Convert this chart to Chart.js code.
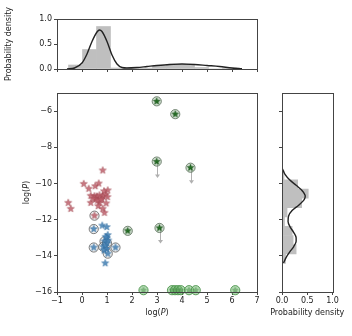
<!DOCTYPE html>
<html><head><meta charset="utf-8">
<script src="https://cdn.jsdelivr.net/npm/chart.js@4.4.1/dist/chart.umd.min.js"></script>
<style>
html,body{margin:0;padding:0;background:#fff;}
#wrap{position:relative;width:352px;height:336px;}
canvas{position:absolute;left:0;top:0;}
</style></head><body>
<div id="wrap">
<canvas id="top" width="352" height="336"></canvas>
<canvas id="main" width="352" height="336"></canvas>
<canvas id="right" width="352" height="336"></canvas>
</div>
<script>
// ---- tick labels ----
const xTicks = [-1, 0, 1, 2, 3, 4, 5, 6, 7];
const yTicks = [-16, -14, -12, -10, -8, -6];
const densTicks = [0, 0.5, 1];

// ---- scatter: red stars ----
const redX = [0.83, 0.07, 0.27, 0.53, 0.67, 0.88, 1.03, 0.35, 0.50, 0.60, 0.70, 0.83, 0.95, 1.02, 0.55, 0.80, 0.35, 0.70, 0.97, -0.55, -0.45, 0.65, 0.83, 0.90, 0.50, 0.45, 0.62, 0.75];
const redY = [-9.28, -10.02, -10.29, -10.15, -10.0, -10.43, -10.38, -10.68, -10.70, -10.72, -10.65, -10.70, -10.62, -10.75, -10.85, -10.85, -11.07, -11.07, -11.10, -11.07, -11.40, -11.25, -11.40, -11.62, -11.78, -10.85, -10.95, -10.90];
// ---- scatter: blue stars ----
const blueX = [0.81, 0.99, 0.47, 1.03, 0.99, 0.90, 1.00, 1.05, 0.85, 0.93, 1.00, 0.88, 0.47, 1.34, 1.03, 0.93, 0.95];
const blueY = [-12.33, -12.41, -12.52, -12.85, -13.0, -13.2, -13.3, -13.15, -13.5, -13.45, -13.62, -13.7, -13.54, -13.54, -13.88, -14.41, -12.95];
// ---- circled red/blue stars ----
const ringX = [0.50, 0.47, 0.90, 0.85, 1.00, 0.47, 1.34, 1.03];
const ringY = [-11.78, -12.52, -13.2, -13.5, -13.3, -13.54, -13.54, -13.88];
// ---- dark green stars (circled) ----
const greenX = [1.83, 2.99, 3.73, 2.99, 4.34, 3.10];
const greenY = [-12.62, -5.46, -6.17, -8.79, -9.13, -12.46];
// ---- light green circles at the bottom ----
const limX = [2.46, 3.60, 3.72, 3.84, 3.95, 4.28, 4.55, 6.13];
const limY = [-15.9, -15.9, -15.9, -15.9, -15.9, -15.9, -15.9, -15.9];
// ---- downward arrows ----
const arrowX = [2.99, 4.34, 3.10];
const arrowFrom = [-8.79, -9.13, -12.46];
const arrowTo = [-9.70, -10.02, -13.32];

// ---- top marginal ----
const topBinCenters = [-0.26, 0.30, 0.86, 1.42, 1.98, 2.54, 3.10, 3.66, 4.22, 4.78, 5.34, 5.90];
const topDensity = [0.08, 0.39, 0.85, 0.02, 0.02, 0.02, 0.06, 0.09, 0.09, 0.03, 0.0, 0.02];
const topKdeX = [-0.6, -0.3, 0.0, 0.2, 0.4, 0.6, 0.7, 0.8, 1.0, 1.2, 1.4, 1.6, 1.8, 2.2, 2.6, 3.0, 3.5, 4.0, 4.5, 5.0, 5.5, 6.0, 6.4];
const topKdeY = [0.0, 0.02, 0.12, 0.30, 0.55, 0.74, 0.78, 0.75, 0.55, 0.28, 0.10, 0.03, 0.02, 0.03, 0.05, 0.07, 0.09, 0.10, 0.09, 0.07, 0.05, 0.02, 0.005];

// ---- right marginal ----
const rightBinCenters = [-9.54, -10.05, -10.56, -11.08, -11.59, -12.10, -12.62, -13.13, -13.64, -14.16];
const rightDensity = [0.04, 0.31, 0.52, 0.39, 0.10, 0.05, 0.20, 0.22, 0.28, 0.07];
const rightKdeY = [-9.2, -9.5, -9.8, -10.1, -10.4, -10.7, -10.9, -11.2, -11.5, -11.8, -12.1, -12.4, -12.7, -13.0, -13.2, -13.5, -13.8, -14.1, -14.4];
const rightKdeD = [0.01, 0.06, 0.15, 0.28, 0.40, 0.46, 0.44, 0.33, 0.20, 0.13, 0.12, 0.16, 0.23, 0.28, 0.28, 0.23, 0.15, 0.08, 0.03];

// ---- axis titles ----
const logPTitle = [['log(', false], ['P', true], [')', false]];
const densityTitle = [['Probability density', false]];

// ---------------------------------------------------------------
const zip = (xs, ys) => xs.map((x, i) => ({x: x, y: ys[i]}));
const minus = v => (v < 0 ? '\u2212' : '') + Math.abs(v);
const fix1 = v => Number(v).toFixed(1);
const FAMILY = 'DejaVu Sans';

Chart.defaults.font.family = FAMILY;
Chart.defaults.font.size = 8;
Chart.defaults.color = '#222';

function drawRich(ctx, parts, cx, cy, rotate) {
  ctx.save();
  ctx.translate(cx, cy);
  if (rotate) ctx.rotate(-Math.PI / 2);
  ctx.fillStyle = '#222';
  ctx.textBaseline = 'middle';
  ctx.textAlign = 'left';
  const fonts = parts.map(p => (p[1] ? 'italic ' : '') + '8px "' + FAMILY + '"');
  let total = 0;
  parts.forEach((p, i) => { ctx.font = fonts[i]; total += ctx.measureText(p[0]).width; });
  let x = -total / 2;
  parts.forEach((p, i) => { ctx.font = fonts[i]; ctx.fillText(p[0], x, 0); x += ctx.measureText(p[0]).width; });
  ctx.restore();
}

// titles drawn relative to each chart's own scales
function titlePlugin(xParts, xOffset, yParts, yCenterX) {
  return {
    id: 'titles',
    afterDraw(chart) {
      const a = chart.chartArea, c = chart.ctx;
      if (xParts) drawRich(c, xParts, (a.left + a.right) / 2, a.bottom + xOffset, false);
      if (yParts) drawRich(c, yParts, yCenterX, (a.top + a.bottom) / 2, true);
    }
  };
}

const AX = '#444';
const framePlugin = {
  id: 'frame',
  afterDraw(chart) {
    const a = chart.chartArea, c = chart.ctx;
    c.save();
    c.strokeStyle = AX; c.lineWidth = 1;
    c.strokeRect(Math.round(a.left) + 0.5, Math.round(a.top) + 0.5, Math.round(a.right - a.left), Math.round(a.bottom - a.top));
    c.restore();
  }
};
const arrowPlugin = {
  id: 'arrows',
  beforeDatasetsDraw(chart) {
    const xs = chart.scales.x, ys = chart.scales.y, c = chart.ctx;
    c.save();
    c.strokeStyle = '#b0b0b0'; c.fillStyle = '#b0b0b0'; c.lineWidth = 1;
    arrowX.forEach((v, i) => {
      const px = Math.round(xs.getPixelForValue(v)) + 0.5;
      const p0 = ys.getPixelForValue(arrowFrom[i]);
      const p1 = ys.getPixelForValue(arrowTo[i]);
      c.beginPath(); c.moveTo(px, p0); c.lineTo(px, p1 - 2); c.stroke();
      c.beginPath(); c.moveTo(px - 2.5, p1 - 3.5); c.lineTo(px + 2.5, p1 - 3.5); c.lineTo(px, p1); c.closePath(); c.fill();
    });
    c.restore();
  }
};

function starImg(r, fill, stroke) {
  const s = Math.ceil(r * 2 + 2);
  const cv = document.createElement('canvas');
  cv.width = s; cv.height = s;
  const c = cv.getContext('2d');
  c.translate(s / 2, s / 2);
  c.beginPath();
  for (let k = 0; k < 10; k++) {
    const rr = k % 2 === 0 ? r : r * 0.42;
    const a = -Math.PI / 2 + k * Math.PI / 5;
    const px = rr * Math.cos(a), py = rr * Math.sin(a);
    if (k === 0) c.moveTo(px, py); else c.lineTo(px, py);
  }
  c.closePath();
  c.fillStyle = fill; c.fill();
  c.strokeStyle = stroke; c.lineWidth = 0.6; c.stroke();
  return cv;
}
const redStar = starImg(3.7, 'rgba(192,96,108,0.85)', 'rgba(160,70,80,0.9)');
const blueStar = starImg(3.7, 'rgba(74,134,184,0.9)', 'rgba(50,110,160,0.9)');
const greenStar = starImg(3.4, 'rgb(38,110,38)', 'rgb(20,80,20)');
const paleStar = starImg(3.0, 'rgba(90,160,90,0.6)', 'rgba(70,140,70,0.6)');

const commonPlugins = {legend: {display: false}, tooltip: {enabled: false}};
const gridTicks = {drawOnChartArea: false, drawTicks: true, tickLength: 3, color: AX, lineWidth: 1};

// ---------------- MAIN ----------------
new Chart(document.getElementById('main'), {
  type: 'scatter',
  data: {datasets: [
    {data: zip(limX, limY), pointStyle: 'circle', pointRadius: 4.6, backgroundColor: 'rgba(120,190,120,0.55)', borderColor: 'rgba(70,145,70,0.85)', borderWidth: 1, clip: false, order: 6},
    {data: zip(limX, limY), pointStyle: paleStar, pointRadius: 3, clip: false, order: 5},
    {data: zip(ringX, ringY), pointStyle: 'circle', pointRadius: 4.6, backgroundColor: 'rgba(210,210,210,0.35)', borderColor: 'rgba(95,95,95,0.8)', borderWidth: 1, clip: false, order: 4},
    {data: zip(greenX, greenY), pointStyle: 'circle', pointRadius: 4.6, backgroundColor: 'rgba(150,180,150,0.45)', borderColor: 'rgba(90,110,90,0.8)', borderWidth: 1, clip: false, order: 4},
    {data: zip(redX, redY), pointStyle: redStar, pointRadius: 3.7, clip: false, order: 2},
    {data: zip(blueX, blueY), pointStyle: blueStar, pointRadius: 3.7, clip: false, order: 2},
    {data: zip(greenX, greenY), pointStyle: greenStar, pointRadius: 3.4, clip: false, order: 1}
  ]},
  options: {
    responsive: false, animation: false, events: [],
    layout: {padding: {left: 0, top: 93, right: 95, bottom: 0}},
    plugins: commonPlugins,
    scales: {
      x: {type: 'linear', position: 'bottom', min: -1, max: 7,
          afterFit: s => { s.height = 44; },
          afterBuildTicks: s => { s.ticks = xTicks.map(v => ({value: v})); },
          ticks: {callback: v => minus(v), padding: 1, maxRotation: 0, autoSkip: false, color: '#222'},
          grid: gridTicks, border: {display: false}},
      y: {type: 'linear', position: 'left', min: -16, max: -5,
          afterFit: s => { s.width = 57; },
          afterBuildTicks: s => { s.ticks = yTicks.map(v => ({value: v})); },
          ticks: {callback: v => minus(v), padding: 2, autoSkip: false, color: '#222'},
          grid: gridTicks, border: {display: false}}
    }
  },
  plugins: [arrowPlugin, framePlugin, titlePlugin(logPTitle, 21, logPTitle, 27)]
});

// ---------------- TOP ----------------
new Chart(document.getElementById('top'), {
  type: 'bar',
  data: {datasets: [
    {type: 'line', data: zip(topKdeX, topKdeY), borderColor: '#222', borderWidth: 1.4, pointRadius: 0, cubicInterpolationMode: 'monotone', fill: false, order: 0},
    {type: 'bar', data: zip(topBinCenters, topDensity), backgroundColor: '#bfbfbf', borderWidth: 0, barPercentage: 1, categoryPercentage: 1, order: 1}
  ]},
  options: {
    responsive: false, animation: false, events: [],
    layout: {padding: {left: 0, top: 19, right: 95, bottom: 263}},
    plugins: commonPlugins,
    scales: {
      x: {type: 'linear', position: 'bottom', min: -1, max: 7, offset: false,
          afterFit: s => { s.height = 4; },
          afterBuildTicks: s => { s.ticks = xTicks.map(v => ({value: v})); },
          ticks: {display: false, autoSkip: false},
          grid: Object.assign({}, gridTicks, {offset: false}), border: {display: false}},
      y: {type: 'linear', position: 'left', min: 0, max: 1,
          afterFit: s => { s.width = 57; },
          afterBuildTicks: s => { s.ticks = densTicks.map(v => ({value: v})); },
          ticks: {callback: v => fix1(v), padding: 2, autoSkip: false, color: '#222'},
          grid: gridTicks, border: {display: false}}
    }
  },
  plugins: [framePlugin, titlePlugin(null, 0, densityTitle, 9)]
});

// ---------------- RIGHT ----------------
new Chart(document.getElementById('right'), {
  type: 'bar',
  data: {datasets: [
    {type: 'line', data: zip(rightKdeD, rightKdeY), borderColor: '#222', borderWidth: 1.4, pointRadius: 0, cubicInterpolationMode: 'monotone', fill: false, order: 0},
    {type: 'bar', data: zip(rightDensity, rightBinCenters), backgroundColor: '#bfbfbf', borderWidth: 0, barPercentage: 1, categoryPercentage: 1, order: 1}
  ]},
  options: {
    indexAxis: 'y',
    responsive: false, animation: false, events: [],
    layout: {padding: {left: 272, top: 93, right: 19.5, bottom: 0}},
    plugins: commonPlugins,
    scales: {
      x: {type: 'linear', position: 'bottom', min: 0, max: 1, offset: false,
          afterFit: s => { s.height = 44; },
          afterBuildTicks: s => { s.ticks = densTicks.map(v => ({value: v})); },
          ticks: {callback: v => fix1(v), padding: 1, maxRotation: 0, autoSkip: false, color: '#222'},
          grid: gridTicks, border: {display: false}},
      y: {type: 'linear', position: 'left', min: -16, max: -5, offset: false,
          afterFit: s => { s.width = 10; },
          afterBuildTicks: s => { s.ticks = yTicks.map(v => ({value: v})); },
          ticks: {display: false, autoSkip: false},
          grid: Object.assign({}, gridTicks, {offset: false}), border: {display: false}}
    }
  },
  plugins: [framePlugin, titlePlugin(densityTitle, 21, null, 0)]
});
</script>
</body></html>
